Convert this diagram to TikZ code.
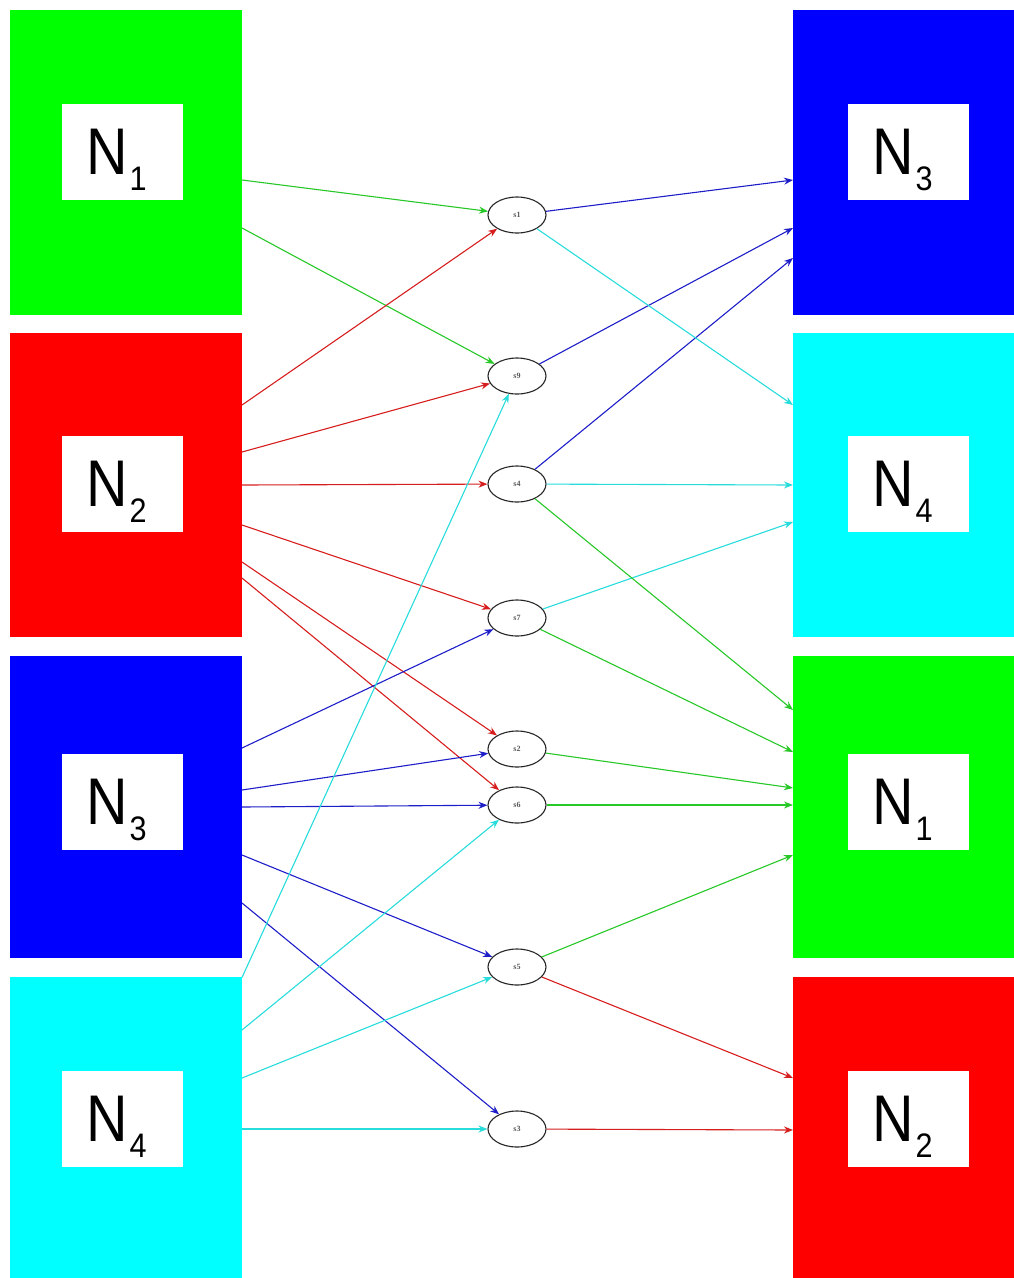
\documentclass[tikz,border=0pt]{standalone}
\usepackage{fontspec}
\setmainfont{Liberation Sans}
\newfontfamily\smallserif{Liberation Serif}
\usetikzlibrary{shapes.geometric,arrows.meta}
\definecolor{cg}{RGB}{0,255,0}
\definecolor{cr}{RGB}{255,0,0}
\definecolor{cb}{RGB}{0,0,255}
\definecolor{cc}{RGB}{0,255,255}
\definecolor{lg}{RGB}{40,200,40}
\definecolor{lr}{RGB}{215,30,30}
\definecolor{lb}{RGB}{30,30,200}
\definecolor{lc}{RGB}{40,220,220}
\newcommand{\lab}[1]{\scalebox{0.87}[1]{N}\hspace{2pt}\smash{\raisebox{-16pt}{\fontsize{34}{34}\selectfont\scalebox{0.9}[1]{#1}}}}
\begin{document}
\begin{tikzpicture}[x=1pt,y=-1pt,
  lbox/.style={rectangle,inner sep=0,outer sep=0,minimum width=232pt,anchor=north west},
  rbox/.style={rectangle,inner sep=0,outer sep=0,minimum width=221pt,anchor=north west},
  tag/.style={fill=white,inner sep=0,minimum width=121pt,minimum height=96pt},
  tagtext/.style={inner sep=0,font=\fontsize{66}{66}\selectfont,xshift=-6pt},
  st/.style={draw=black!85,fill=white,ellipse,line width=1.1pt,minimum width=58pt,minimum height=36pt,inner sep=0,font=\smallserif\bfseries\fontsize{8}{8}\selectfont,text=black!65},
  conn/.style={line width=1.1pt,-{Stealth[length=9pt,width=7pt]}}
]
\useasboundingbox[fill=white] (0,0) rectangle (1014,1278);
% left boxes
\node[lbox,fill=cg,minimum height=305pt] (L1) at (10,10) {};
\node[lbox,fill=cr,minimum height=304pt] (L2) at (10,333) {};
\node[lbox,fill=cb,minimum height=302pt] (L3) at (10,656) {};
\node[lbox,fill=cc,minimum height=301pt] (L4) at (10,977) {};
% right boxes
\node[rbox,fill=cb,minimum height=305pt] (R3) at (793,10) {};
\node[rbox,fill=cc,minimum height=304pt] (R4) at (793,333) {};
\node[rbox,fill=cg,minimum height=302pt] (R1) at (793,656) {};
\node[rbox,fill=cr,minimum height=301pt] (R2) at (793,977) {};
% label plates
\node[tag] (tL1) at (122.5,152) {};
\node[tag] (tL2) at (122.5,483.5) {};
\node[tag] (tL3) at (122.5,802) {};
\node[tag] (tL4) at (122.5,1119) {};
\node[tag] (tR3) at (908.5,152) {};
\node[tag] (tR4) at (908.5,483.5) {};
\node[tag] (tR1) at (908.5,802) {};
\node[tag] (tR2) at (908.5,1119) {};
% label texts
\node[tagtext] (xL1) at (tL1.center) {\lab{1}};
\node[tagtext] (xL2) at (tL2.center) {\lab{2}};
\node[tagtext] (xL3) at (tL3.center) {\lab{3}};
\node[tagtext] (xL4) at (tL4.center) {\lab{4}};
\node[tagtext] (xR3) at (tR3.center) {\lab{3}};
\node[tagtext] (xR4) at (tR4.center) {\lab{4}};
\node[tagtext] (xR1) at (tR1.center) {\lab{1}};
\node[tagtext] (xR2) at (tR2.center) {\lab{2}};
% states
\node[st] (s1) at (517,215) {s1};
\node[st] (s9) at (517,376) {s9};
\node[st] (s4) at (517,484) {s4};
\node[st] (s7) at (517,618) {s7};
\node[st] (s2) at (517,749) {s2};
\node[st] (s6) at (517,805) {s6};
\node[st] (s5) at (517,967) {s5};
\node[st] (s3) at (517,1129) {s3};
% from N1
\draw[conn,lg] ([yshift=-17.5pt]L1.east) -- (s1);
\draw[conn,lg] ([yshift=-65.5pt]L1.east) -- (s9);
% from N2
\draw[conn,lr] ([yshift=80pt]L2.east) -- (s1);
\draw[conn,lr] ([yshift=33pt]L2.east) -- (s9);
\draw[conn,lr] (L2.east) -- (s4);
\draw[conn,lr] ([yshift=-40pt]L2.east) -- (s7);
\draw[conn,lr] ([yshift=-77pt]L2.east) -- (s2);
\draw[conn,lr] ([yshift=-93pt]L2.east) -- (s6);
% from N3
\draw[conn,lb] ([yshift=59pt]L3.east) -- (s7);
\draw[conn,lb] ([yshift=17pt]L3.east) -- (s2);
\draw[conn,lb] (L3.east) -- (s6);
\draw[conn,lb] ([yshift=-48pt]L3.east) -- (s5);
\draw[conn,lb] ([yshift=-96pt]L3.east) -- (s3);
% from N4
\draw[conn,lc] ([yshift=150pt]L4.east) -- (s9);
\draw[conn,lc] ([yshift=97.5pt]L4.east) -- (s6);
\draw[conn,lc] ([yshift=49.5pt]L4.east) -- (s5);
\draw[conn,lc] ([yshift=-1.5pt]L4.east) -- (s3);
% to right N3
\draw[conn,lb] (s1) -- ([yshift=-17.5pt]R3.west);
\draw[conn,lb] (s9) -- ([yshift=-65.5pt]R3.west);
\draw[conn,lb] (s4) -- ([yshift=-95.5pt]R3.west);
% to right N4
\draw[conn,lc] (s1) -- ([yshift=80pt]R4.west);
\draw[conn,lc] (s4) -- (R4.west);
\draw[conn,lc] (s7) -- ([yshift=-37pt]R4.west);
% to right N1
\draw[conn,lg] (s4) -- ([yshift=97pt]R1.west);
\draw[conn,lg] (s7) -- ([yshift=55pt]R1.west);
\draw[conn,lg] (s2) -- ([yshift=19pt]R1.west);
\draw[conn,lg] (s6) -- ([yshift=2pt]R1.west);
\draw[conn,lg] (s5) -- ([yshift=-48pt]R1.west);
% to right N2
\draw[conn,lr] (s5) -- ([yshift=49.5pt]R2.west);
\draw[conn,lr] (s3) -- ([yshift=-2.5pt]R2.west);
\end{tikzpicture}
\end{document}
